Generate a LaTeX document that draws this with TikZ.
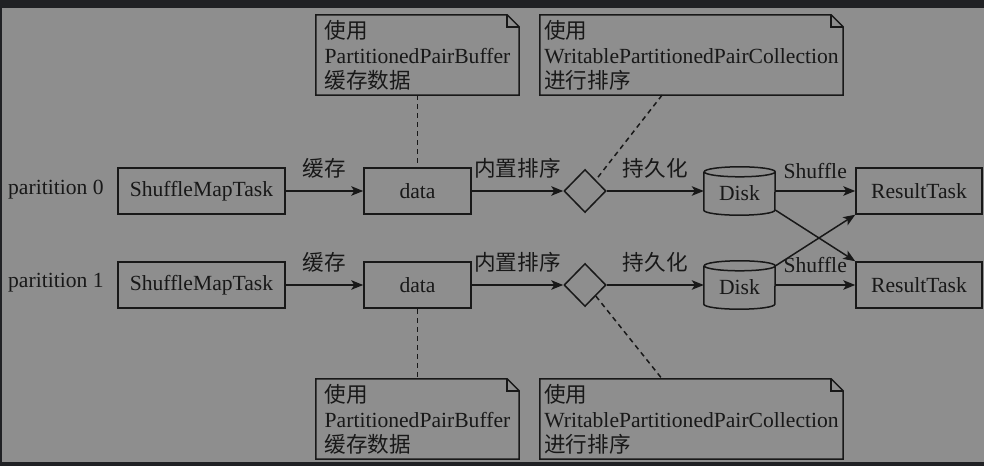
\documentclass[tikz,border=0pt]{standalone}
\usepackage{fontspec}
\setmainfont{Liberation Serif}
\newfontfamily\cjk{Noto Sans CJK SC}
\usetikzlibrary{shapes.geometric,arrows.meta}
\definecolor{bgc}{RGB}{142,142,142}
\definecolor{barc}{RGB}{32,33,36}
\definecolor{ink}{RGB}{24,24,24}
\newcommand\drawcyl[1]{%
  \draw[ln] ([yshift=-5pt]#1.north west) -- ([yshift=5pt]#1.south west)
    arc[start angle=180,end angle=360,x radius=35.5pt,y radius=5pt]
    -- ([yshift=-5pt]#1.north east)
    arc[start angle=0,end angle=360,x radius=35.5pt,y radius=5pt];}
\newcommand\drawnote[1]{%
  \draw[ln,line join=miter] (#1.north west) -- ([xshift=-12pt]#1.north east)
    -- ([yshift=-12pt]#1.north east) -- (#1.south east) -- (#1.south west) -- cycle;
  \draw[ln] ([xshift=-12pt]#1.north east) |- ([yshift=-12pt]#1.north east);}
\begin{document}
\begin{tikzpicture}[x=1pt,y=1pt,
  font=\fontsize{21.6}{25}\selectfont,
  ln/.style={draw=ink,line width=1.5pt},
  box/.style={ln,rectangle,minimum height=46pt,inner sep=0pt,text=ink},
  diskbox/.style={rectangle,minimum width=71pt,minimum height=48pt,inner sep=0pt,text=ink},
  dia/.style={ln,diamond,minimum width=42pt,minimum height=43pt,inner sep=0pt},
  notebox/.style={rectangle,align=left,minimum width=#1,minimum height=80pt,inner sep=0pt,text=ink},
  arr/.style={ln,-{Stealth[length=12pt,width=9.5pt,inset=3pt]}},
  dsh/.style={ln,dash pattern=on 5pt off 4pt},
  lbl/.style={midway,above=12pt,inner sep=0pt,text=ink},
  plabel/.style={anchor=west,inner sep=0pt,text=ink}]
\fill[bgc] (0,0) rectangle (984,466);
\useasboundingbox (0,0) rectangle (984,466);
\fill[barc] (0,458) rectangle (984,466);
\fill[barc] (0,0) rectangle (984,4);
\fill[barc] (0,0) rectangle (2,466);

% row 0
\node[plabel] (p0) at (8,276) {paritition 0};
\node[box,minimum width=167pt] (smt0) at (201.5,275) {ShuffleMapTask};
\node[box,minimum width=107pt] (data0) at (417.5,275) {data};
\node[dia] (q0) at (585,275) {};
\node[diskbox] (d0) at (739.5,275) {};
\node[text=ink] (t0) at (739.5,272.5) {Disk};
\node[box,minimum width=126pt] (rt0) at (919,275) {ResultTask};
% row 1
\node[plabel] (p1) at (8,183) {paritition 1};
\node[box,minimum width=167pt] (smt1) at (201.5,181) {ShuffleMapTask};
\node[box,minimum width=107pt] (data1) at (417.5,181) {data};
\node[dia] (q1) at (585,181) {};
\node[diskbox] (d1) at (739.5,181) {};
\node[text=ink] (t1) at (739.5,178.5) {Disk};
\node[box,minimum width=126pt] (rt1) at (919,181) {ResultTask};
\drawcyl{d0}
\drawcyl{d1}

% notes
\node[notebox=203pt] (n1) at (417.5,411) {{\cjk 使用}\\PartitionedPairBuffer\\{\cjk 缓存数据}};
\node[notebox=303pt] (n2) at (691.5,411) {{\cjk 使用}\\WritablePartitionedPairCollection\\{\cjk 进行排序}};
\node[notebox=203pt] (n3) at (417.5,47) {{\cjk 使用}\\PartitionedPairBuffer\\{\cjk 缓存数据}};
\node[notebox=303pt] (n4) at (691.5,47) {{\cjk 使用}\\WritablePartitionedPairCollection\\{\cjk 进行排序}};
\drawnote{n1}
\drawnote{n2}
\drawnote{n3}
\drawnote{n4}

% arrows row 0
\draw[arr] (smt0) -- node[lbl]{\cjk 缓存} (data0);
\draw[arr] (data0) -- node[lbl]{\cjk 内置排序} (q0);
\draw[arr] (q0) -- node[lbl]{\cjk 持久化} (d0);
\draw[arr] (d0) -- node[lbl]{Shuffle} (rt0);
% arrows row 1
\draw[arr] (smt1) -- node[lbl]{\cjk 缓存} (data1);
\draw[arr] (data1) -- node[lbl]{\cjk 内置排序} (q1);
\draw[arr] (q1) -- node[lbl]{\cjk 持久化} (d1);
\draw[arr] (d1) -- node[lbl]{Shuffle} (rt1);
% cross
\draw[arr] (d0.-28) -- (rt1.north west);
\draw[arr] (d1.28) -- (rt0.south west);

% dashed links
\draw[dsh] (n1.south) -- (data0.north);
\draw[dsh] ([xshift=-29.5pt]n2.south) -- (q0.north east);
\draw[dsh] (data1.south) -- (n3.north);
\draw[dsh] (q1.south east) -- ([xshift=-29.5pt]n4.north);
\end{tikzpicture}
\end{document}
